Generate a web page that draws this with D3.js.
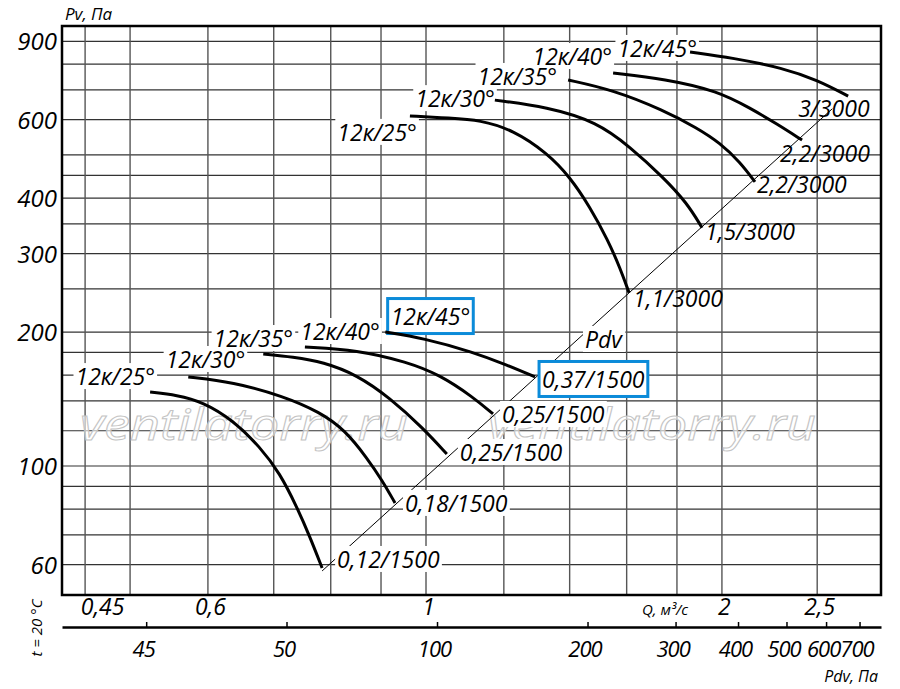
<!DOCTYPE html>
<html>
<head>
<meta charset="utf-8">
<script src="https://cdn.jsdelivr.net/npm/d3@7"></script>
<style>
  body { margin: 0; background: #fff; }
  text { font-family: "Open Sans", sans-serif; font-style: italic; }
</style>
</head>
<body>
<div class="canvas"></div>
<script>
// grid + tick values
const qGrid = [0.45, 0.5, 0.6, 0.7, 0.8, 0.9, 1, 1.2, 1.4, 1.6, 1.8, 2, 2.5];
const qTicks = [0.45, 0.6, 1, 2, 2.5];
const qTickLabels = ["0,45", "0,6", "1", "2", "2,5"];
const pGrid = [60, 70, 80, 90, 100, 120, 140, 160, 180, 200, 250, 300, 350, 400, 450, 500, 600, 700, 800, 900];
const pTicks = [60, 100, 200, 300, 400, 600, 900];
const pdvTicks = [26.2, 50, 100, 200, 300, 400, 500, 600, 700];
const pdvTickLabels = ["45", "50", "100", "200", "300", "400", "500", "600", "700"];

const angles = ["12к/25°", "12к/30°", "12к/35°", "12к/40°", "12к/45°"];
const motors3000 = ["1,1/3000", "1,5/3000", "2,2/3000", "2,2/3000", "3/3000"];
const motors1500 = ["0,12/1500", "0,18/1500", "0,25/1500", "0,25/1500", "0,37/1500"];

// [Q m3/s, Pv Pa] along each curve, 3000 rpm
const n3000a25 = [[0.963, 612], [1.058, 605], [1.135, 599], [1.226, 569], [1.328, 505], [1.401, 446], [1.468, 382], [1.531, 322], [1.575, 279], [1.609, 245]];
const n3000a30 = [[1.175, 664], [1.328, 641], [1.493, 593], [1.613, 521], [1.742, 446], [1.843, 390], [1.909, 343]];
const n3000a35 = [[1.395, 737], [1.55, 700], [1.742, 631], [1.887, 575], [1.991, 532], [2.087, 482], [2.161, 435]];
const n3000a40 = [[1.55, 764], [1.75, 741], [1.982, 696], [2.136, 637], [2.276, 587], [2.413, 540]];
const n3000a45 = [[1.856, 852], [2.053, 826], [2.308, 784], [2.499, 737], [2.688, 678]];
// 1500 rpm
const n1500a25 = [[0.524, 146.6], [0.558, 144.4], [0.593, 139.3], [0.636, 126.9], [0.678, 110.3], [0.71, 96.4], [0.739, 80.9], [0.762, 69.3], [0.784, 59]];
const n1500a30 = [[0.573, 158.5], [0.636, 154.4], [0.715, 143.7], [0.78, 132.2], [0.827, 120.5], [0.871, 104.2], [0.902, 93], [0.93, 82.6]];
const n1500a35 = [[0.683, 178.5], [0.732, 175.8], [0.786, 171.3], [0.851, 160.2], [0.919, 142.2], [0.993, 121.7], [1.05, 106.4]];
const n1500a40 = [[0.753, 185.1], [0.851, 182.3], [0.957, 171.3], [1.033, 160.2], [1.116, 142.9], [1.17, 130.9]];
const n1500a45 = [[0.909, 200], [0.993, 193.9], [1.116, 180.4], [1.209, 168.6], [1.291, 158.5]];

// Pdv line ends
const pdvLine = [[0.784, 58.1], [2.59, 635]];

const curves3000 = [n3000a25, n3000a30, n3000a35, n3000a40, n3000a45];
const curves1500 = [n1500a25, n1500a30, n1500a35, n1500a40, n1500a45];

// label nudges in px (layout only)
const angleOff3000 = [[7, 25], [0, 7], [-11, 5], [-1, -8], [7, 5]];
const angleOff1500 = [[5, -7], [57, -9], [30, -7], [75, -7], [85, -7]];
const motorOff3000 = [[4, 14], [3, 12], [2, 11], [-22, 22], [-50, 21]];
const motorOff1500 = [[15, 0], [10, 9], [13, 7], [9, 9], [7, 11]];

const width = 900;
const height = 689;
const plotL = 62, plotR = 881, plotT = 26, plotB = 595;

const svg = d3.select(".canvas").append("svg")
  .attr("width", width)
  .attr("height", height);

const x = d3.scaleLog().domain([0.4263, 2.903]).range([plotL, plotR]);
const y = d3.scaleLog().domain([51.3, 974.4]).range([plotB, plotT]);
const xPdv = d3.scaleLog().domain([17.78, 772.7]).range([plotL, plotR]);

// grid
const grid = svg.append("g");
grid.selectAll(".h").data(pGrid).join("line")
  .attr("class", "h")
  .attr("x1", plotL).attr("x2", plotR)
  .attr("y1", d => y(d)).attr("y2", d => y(d))
  .attr("stroke", "#333").attr("stroke-width", 1.2);
grid.selectAll(".v").data(qGrid).join("line")
  .attr("class", "v")
  .attr("x1", d => x(d)).attr("x2", d => x(d))
  .attr("y1", plotT).attr("y2", plotB)
  .attr("stroke", "#555").attr("stroke-width", 1.4);

// watermark
[80, 488].forEach(wx => {
  svg.append("text")
    .attr("x", wx).attr("y", 440)
    .attr("font-size", 44)
    .attr("textLength", 328)
    .attr("lengthAdjust", "spacingAndGlyphs")
    .attr("fill", "#fff").attr("fill-opacity", 0.6)
    .attr("stroke", "#c4c4c4").attr("stroke-width", 1)
    .text("ventilatorry.ru");
});

const lineGen = d3.line()
  .x(d => x(d[0]))
  .y(d => y(d[1]))
  .curve(d3.curveBasis);

// Pdv line
svg.append("line")
  .attr("x1", x(pdvLine[0][0])).attr("y1", y(pdvLine[0][1]))
  .attr("x2", x(pdvLine[1][0])).attr("y2", y(pdvLine[1][1]))
  .attr("stroke", "#000").attr("stroke-width", 1);

const bgLayer = svg.append("g");
const curveLayer = svg.append("g");
const textLayer = svg.append("g");

function label(txt, px, py, anchor, size, bg, boxed) {
  const t = textLayer.append("text")
    .attr("x", px).attr("y", py)
    .attr("text-anchor", anchor)
    .attr("font-size", size)
    .attr("fill", "#000")
    .text(txt);
  const b = t.node().getBBox();
  if (boxed) {
    bgLayer.append("rect")
      .attr("x", b.x - 3).attr("y", b.y - 1.5)
      .attr("width", b.width + 6).attr("height", b.height + 3)
      .attr("fill", "#fff")
      .attr("stroke", "#0b8bd9").attr("stroke-width", 3);
  } else if (bg) {
    bgLayer.append("rect")
      .attr("x", b.x - 2).attr("y", b.y + 3)
      .attr("width", b.width + 4).attr("height", b.height - 6)
      .attr("fill", "#fff");
  }
}

function drawGroup(curves, motors, angOff, motOff, motorBg) {
  curves.forEach((c, i) => {
    curveLayer.append("path")
      .attr("d", lineGen(c))
      .attr("fill", "none")
      .attr("stroke", "#000")
      .attr("stroke-width", 3);
    const s = c[0], e = c[c.length - 1];
    const boxed = motorBg && i === 4;
    label(angles[i], x(s[0]) + angOff[i][0], y(s[1]) + angOff[i][1], "end", 23, true, boxed);
    label(motors[i], x(e[0]) + motOff[i][0], y(e[1]) + motOff[i][1], "start", 23, motorBg, boxed);
  });
}

drawGroup(curves3000, motors3000, angleOff3000, motorOff3000, false);
drawGroup(curves1500, motors1500, angleOff1500, motorOff1500, true);

label("Pdv", 585, 348, "start", 23, true, false);

// axes
const yAxis = svg.append("g")
  .attr("transform", `translate(${plotL},0)`)
  .call(d3.axisLeft(y).tickValues(pTicks).tickSize(0).tickPadding(5).tickFormat(d3.format("d")));
yAxis.select(".domain").remove();
yAxis.selectAll("text")
  .attr("font-size", 24).attr("font-family", "'Open Sans', sans-serif").attr("font-style", "italic")
  .attr("fill", "#000").attr("dy", "0.36em");

const qAxis = svg.append("g")
  .attr("transform", `translate(0,${plotB})`)
  .call(d3.axisBottom(x).tickValues(qTicks).tickSize(0).tickPadding(4).tickFormat((d, i) => qTickLabels[i]));
qAxis.select(".domain").remove();
qAxis.selectAll("text")
  .attr("font-size", 23).attr("font-family", "'Open Sans', sans-serif").attr("font-style", "italic")
  .attr("fill", "#000")
  .attr("dx", (d, i) => (i === 0 ? 17 : 2));

const pdvAxis = svg.append("g")
  .attr("transform", "translate(0,627)")
  .call(d3.axisBottom(xPdv).tickValues(pdvTicks).tickSizeInner(-5).tickSizeOuter(0).tickPadding(14.5)
    .tickFormat((d, i) => pdvTickLabels[i]));
pdvAxis.select(".domain").attr("stroke", "#000").attr("stroke-width", 2.5);
pdvAxis.selectAll(".tick line").attr("stroke", "#000").attr("stroke-width", 1.5);
pdvAxis.selectAll("text")
  .attr("font-size", 22).attr("font-family", "'Open Sans', sans-serif").attr("font-style", "italic")
  .attr("letter-spacing", -1)
  .attr("fill", "#000").attr("dx", -3);

// frame
svg.append("rect")
  .attr("x", plotL).attr("y", plotT)
  .attr("width", plotR - plotL).attr("height", plotB - plotT)
  .attr("fill", "none").attr("stroke", "#000").attr("stroke-width", 2.5);

// axis titles
svg.append("text").attr("x", 65).attr("y", 20).attr("font-size", 17).text("Pv, Па");
svg.append("text").attr("x", 642).attr("y", 615).attr("font-size", 15).text("Q, м³/с");
svg.append("text").attr("x", 878).attr("y", 682).attr("font-size", 16)
  .attr("text-anchor", "end").text("Pdv, Па");
svg.append("text")
  .attr("transform", "translate(42,628) rotate(-90)")
  .attr("text-anchor", "middle")
  .attr("font-size", 15)
  .text("t = 20 °C");
</script>
</body>
</html>
